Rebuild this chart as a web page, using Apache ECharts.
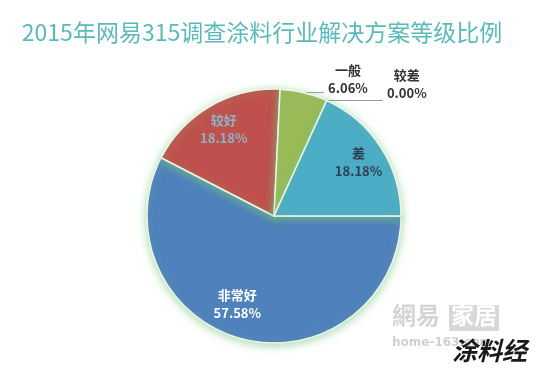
<!DOCTYPE html>
<html>
<head>
<meta charset="utf-8">
<script src="https://cdn.jsdelivr.net/npm/echarts@6/dist/echarts.min.js"></script>
<style>html,body{margin:0;padding:0;background:#fff;}#c{width:549px;height:373px;}</style>
</head>
<body>
<div id="c"></div>
<script>
const titleText = '2015年网易315调查涂料行业解决方案等级比例';
const categories = ['非常好', '较好', '一般', '较差', '差'];
const values = [57.58, 18.18, 6.06, 0.00, 18.18];
const colors = ['#4F81BD', '#C0504D', '#9BBB59', '#8064A2', '#4BACC6'];
const innerLabelColors = ['#ffffff', '#8fb3c4', '#333333', '#333333', '#2f3f4f'];
const outsideCats = ['一般', '较差'];
const lineLen2 = { '一般': 20, '较差': 56 };
const labelSpacer = { '一般': 28, '较差': 32 };

const chart = echarts.init(document.getElementById('c'));
const font = '"Noto Sans CJK SC", "Noto Sans", sans-serif';

const mainData = categories.map((name, i) => {
  const outside = outsideCats.includes(name);
  return {
    name, value: values[i],
    itemStyle: { color: colors[i] },
    label: outside ? {
      show: true, position: 'outside', align: 'left',
      formatter: p => '{t|' + p.name + '}\n{t|' + p.value.toFixed(2) + '%}\n{s|}',
      rich: {
        t: { color: '#333', fontSize: 13, fontWeight: 'bold', fontFamily: font, lineHeight: 18, width: 38, align: 'center' },
        s: { lineHeight: labelSpacer[name], height: labelSpacer[name], fontSize: 1 }
      }
    } : { show: false },
    labelLine: outside ? { show: true, length: 0, length2: lineLen2[name], lineStyle: { color: '#999', width: 1 } } : { show: false }
  };
});

const overlayData = categories.map((name, i) => ({
  name, value: values[i],
  label: outsideCats.includes(name) ? { show: false } : {
    show: true, position: 'inside', color: innerLabelColors[i], fontSize: 13, fontWeight: 'bold',
    fontFamily: font, lineHeight: 18,
    formatter: p => p.name + '\n' + p.value.toFixed(2) + '%'
  }
}));

chart.setOption({
  backgroundColor: '#ffffff',
  animation: false,
  title: {
    text: titleText, left: 257, top: 16, textAlign: 'center',
    textStyle: { color: '#5cb9ba', fontSize: 23, fontWeight: 'normal', fontFamily: font }
  },
  graphic: [
    { type: 'text', left: 392, top: 303, style: { text: '網易', fill: '#d4d4d4', font: 'bold 24px "Noto Sans CJK TC", sans-serif' } },
    { type: 'rect', left: 449, top: 305, shape: { width: 50, height: 26 }, style: { fill: '#d8d8d8' } },
    { type: 'text', left: 451, top: 304, style: { text: '家居', fill: '#ffffff', font: 'bold 23px "Noto Sans CJK TC", sans-serif' } },
    { type: 'text', left: 392, top: 337, style: { text: 'home-163.com', fill: '#d0d0d0', font: 'bold 12px "DejaVu Sans", sans-serif' } },
    { type: 'text', left: 452, top: 338, style: { text: '涂料经', fill: '#1a1a1a', font: 'italic bold 25px "Noto Sans CJK SC", sans-serif' } }
  ],
  series: [
    {
      type: 'pie', center: [274, 216], radius: 127, startAngle: 0, clockwise: true,
      avoidLabelOverlap: false, stillShowZeroSum: true, silent: true,
      itemStyle: { borderColor: '#eef6ea', borderWidth: 1.5, shadowBlur: 9, shadowColor: 'rgba(120,200,130,0.65)', shadowOffsetY: 2 },
      data: mainData
    },
    {
      type: 'pie', center: [274, 216], radius: [68, 127], startAngle: 0, clockwise: true,
      avoidLabelOverlap: false, silent: true,
      itemStyle: { color: 'rgba(0,0,0,0)' },
      labelLine: { show: false },
      labelLayout: p => p.dataIndex === 0 ? { dx: -13, dy: -10 } : {},
      data: overlayData
    }
  ]
});
</script>
</body>
</html>
